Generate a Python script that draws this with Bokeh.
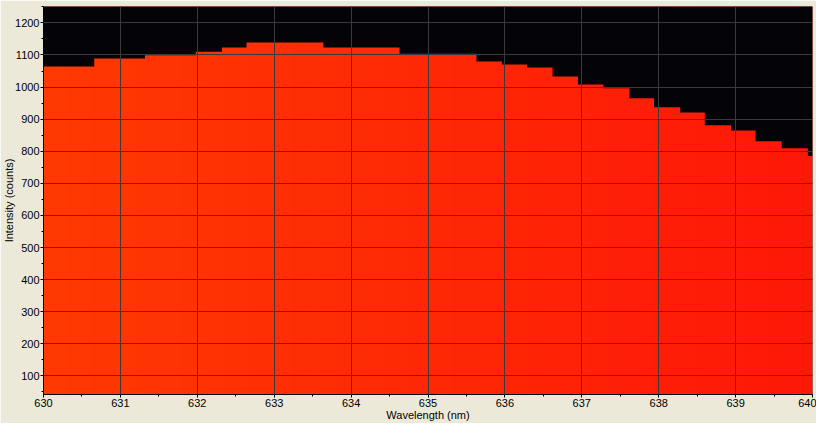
import numpy as np
from bokeh.plotting import figure
from bokeh.models import Range1d, SingleIntervalTicker
from bokeh.embed import file_html
from bokeh.resources import INLINE

# Step edges (nm) and intensities (counts)
wavelength = [630.00, 630.66, 631.32, 631.98, 632.32, 632.64, 633.64, 634.63,
              635.63, 635.96, 636.29, 636.62, 636.95, 637.28, 637.62, 637.94,
              638.28, 638.60, 638.94, 639.26, 639.60, 639.94]
intensity = [1064, 1089, 1099, 1110, 1123, 1139, 1123, 1104,
             1080, 1070, 1061, 1033, 1008, 996, 965, 937,
             921, 881, 865, 831, 809, 785]

x_min, x_max = 630, 640
y_min, y_max = 42, 1251

BG = "#ECE9D8"
FONT = "Liberation Sans"

p = figure(width=816, height=423, output_backend="svg", toolbar_location=None,
           x_range=Range1d(x_min, x_max), y_range=Range1d(y_min, y_max),
           background_fill_color="#040307", border_fill_color=BG,
           outline_line_color=None,
           min_border_left=39, min_border_right=4, min_border_top=6, min_border_bottom=28)

# horizontal red-orange gradient fill (under the curve)
n = 256
t = np.linspace(0, 1, n)
c0 = np.array([255, 58, 2]); c1 = np.array([254, 24, 8])
img = np.zeros((1, n), dtype=np.uint32)
view = img.view(dtype=np.uint8).reshape((1, n, 4))
for i in range(3):
    view[0, :, i] = (c0[i] + (c1[i] - c0[i]) * t).astype(np.uint8)
view[0, :, 3] = 255
p.image_rgba(image=[img], x=x_min, y=y_min, dw=x_max - x_min, dh=y_max - y_min)

# black region above the step curve
xs = wavelength + [x_max]
ys = intensity + [intensity[-1]]
p.varea_step(x=xs, y1=ys, y2=[y_max] * len(xs), step_mode="after",
             fill_color="#040307")

# grid on top
for g in (p.xgrid, p.ygrid):
    g.level = "overlay"
    g.grid_line_color = "#3a3a3a"
    g.grid_line_width = 1

p.xaxis.ticker = SingleIntervalTicker(interval=1, num_minor_ticks=2)
p.yaxis.ticker = SingleIntervalTicker(interval=100, num_minor_ticks=2)

for ax in (p.xaxis, p.yaxis):
    ax.axis_line_color = "black"
    ax.major_tick_line_color = "black"
    ax.minor_tick_line_color = "black"
    ax.major_tick_in = 0
    ax.major_tick_out = 3
    ax.minor_tick_in = 0
    ax.minor_tick_out = 2
    ax.major_label_text_font = FONT
    ax.major_label_text_font_size = "11px"
    ax.major_label_text_color = "black"
    ax.axis_label_text_font = FONT
    ax.axis_label_text_font_size = "11px"
    ax.axis_label_text_font_style = "normal"
    ax.axis_label_text_color = "black"

p.xaxis.major_label_standoff = 1
p.xaxis.axis_label_standoff = -1
p.yaxis.major_label_standoff = 1
p.yaxis.axis_label_standoff = -3

p.xaxis.axis_label = "Wavelength (nm)"
p.yaxis.axis_label = "Intensity (counts)"

open("out.html", "w").write(file_html(p, INLINE))
